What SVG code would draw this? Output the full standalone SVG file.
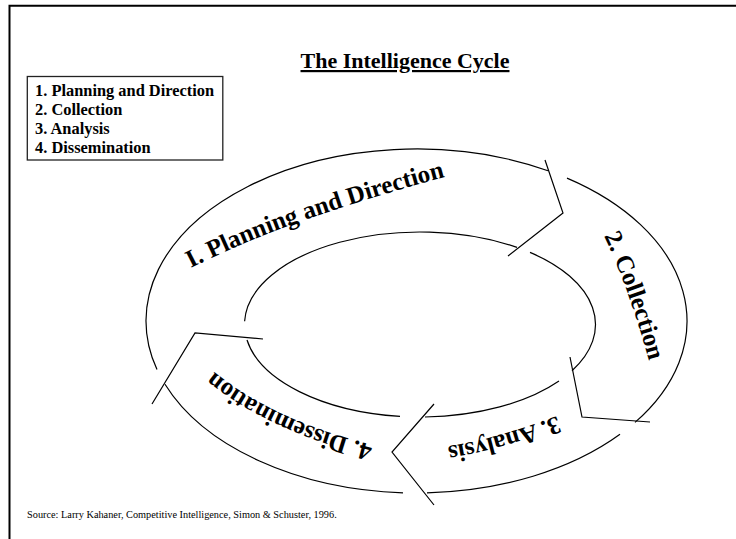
<svg xmlns="http://www.w3.org/2000/svg" width="736" height="539" viewBox="0 0 736 539">
<style>
.ln{fill:none;stroke:#000;stroke-width:1.2}
.t{font-family:"Liberation Serif","Times New Roman",serif;font-weight:bold;fill:#000}
.seg{font-size:25px}
.lg{font-size:16.4px}
</style>
<defs>
<path id="p1" d="M191,268 Q285.9,219.6 445,177 l 20,-5"/>
<path id="p2" d="M604,236 Q630,290 652,372 l 6,22"/>
<path id="p3" d="M557,416 Q481.9,443.3 440,447 l -20,2"/>
<path id="p4" d="M373,445 Q277.2,421.3 218,375 l -16,-12"/>
</defs>
<rect width="736" height="539" fill="#fff"/>
<path d="M9.5,545 V5.8 H745" fill="none" stroke="#000" stroke-width="2"/>
<g id="title">
<text class="t" x="405" y="68" font-size="22" text-anchor="middle" text-decoration="underline">The Intelligence Cycle</text>
</g>
<g id="legend">
<rect x="27.3" y="76.5" width="195.5" height="83.5" fill="none" stroke="#222" stroke-width="1.3"/>
<text class="t lg" x="35" y="96">1. Planning and Direction</text>
<text class="t lg" x="35" y="115">2. Collection</text>
<text class="t lg" x="35" y="134">3. Analysis</text>
<text class="t lg" x="35" y="153">4. Dissemination</text>
</g>
<g id="seg1">
<path class="ln" d="M157,369.6 A270.5,172 0 0 1 548,170.7"/>
<path class="ln" d="M244.6,321.3 A175.5,92.5 0 0 1 517,247.4"/>
<text class="t seg"><textPath href="#p1">I. Planning and Direction</textPath></text>
</g>
<g id="seg2">
<path class="ln" d="M567,178.1 A270.5,172 0 0 1 635,422.4"/>
<path class="ln" d="M530,252.4 A175.5,92.5 0 0 1 572,370.7"/>
<text class="t seg"><textPath href="#p2">2. Collection</textPath></text>
</g>
<g id="seg3">
<path class="ln" d="M620,434.3 A270.5,172 0 0 1 427,492.9"/>
<path class="ln" d="M559,381 A175.5,92.5 0 0 1 425,417"/>
<text class="t seg"><textPath href="#p3">3. Analysis</textPath></text>
</g>
<g id="seg4">
<path class="ln" d="M403,492.8 A270.5,172 0 0 1 165,384.3"/>
<path class="ln" d="M400,416.4 A175.5,92.5 0 0 1 247,340"/>
<text class="t seg"><textPath href="#p4">4. Dissemination</textPath></text>
</g>
<g id="connectors">
<polyline class="ln" points="545,160 563,213 508,256"/>
<polyline class="ln" points="570,357 582,417 650,422"/>
<polyline class="ln" points="434,404 392,452 434,505"/>
<polyline class="ln" points="152,404 195,333 263,339"/>
</g>
<text x="27" y="518" font-family="Liberation Serif, Times New Roman, serif" font-size="10.3" fill="#000">Source: Larry Kahaner, Competitive Intelligence, Simon &amp; Schuster, 1996.</text>
</svg>
